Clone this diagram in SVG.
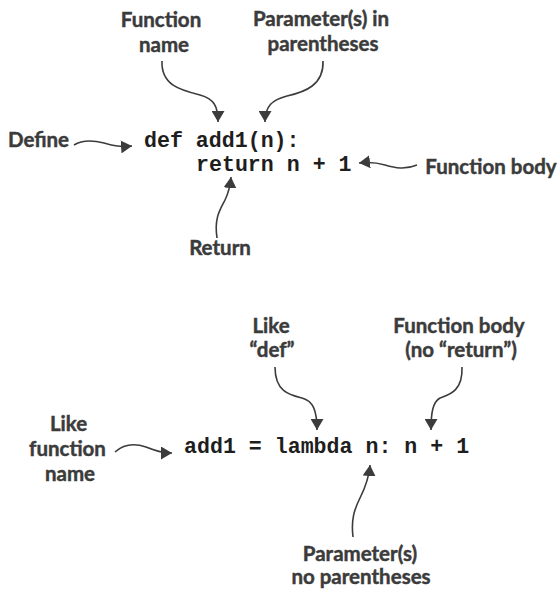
<svg xmlns="http://www.w3.org/2000/svg" width="558" height="589" viewBox="0 0 558 589">
<style>
.lbl{font-family:Lato,"Open Sans","Liberation Sans",sans-serif;font-weight:700;font-size:20.5px;fill:#3b3b3b;stroke:#3b3b3b;stroke-width:0.45;text-anchor:middle}
.code{font-family:"Liberation Mono","Courier New",monospace;font-weight:700;font-size:21.6px;fill:#1e1e1e}
.arr{fill:none;stroke:#3c3c3c;stroke-width:1.6;marker-end:url(#ah)}
</style>
<defs>
<marker id="ah" viewBox="0 0 10 10" refX="10" refY="5" markerWidth="11" markerHeight="13" markerUnits="userSpaceOnUse" orient="auto" preserveAspectRatio="none">
<path d="M0,0 L10,5 L0,10 z" fill="#3c3c3c"/>
</marker>
</defs>
<rect width="558" height="589" fill="#fff"/>
<g id="code-def">
<text class="code" x="144" y="147" xml:space="preserve">def add1(n):</text>
<text class="code" x="196" y="171" xml:space="preserve">return n + 1</text>
</g>
<g id="label-function-name">
<text class="lbl" x="161" y="27">Function</text>
<text class="lbl" x="164" y="52">name</text>
</g>
<g id="label-params">
<text class="lbl" x="321" y="26">Parameter(s) in</text>
<text class="lbl" x="323" y="51">parentheses</text>
</g>
<g id="label-define">
<text class="lbl" x="38.5" y="147">Define</text>
</g>
<g id="label-function-body">
<text class="lbl" x="491" y="174">Function body</text>
</g>
<g id="label-return">
<text class="lbl" x="220" y="255">Return</text>
</g>
<g id="code-lambda">
<text class="code" x="184" y="453" xml:space="preserve">add1 = lambda n: n + 1</text>
</g>
<g id="label-like-def">
<text class="lbl" x="271" y="333">Like</text>
<text class="lbl" x="272" y="357">“def”</text>
</g>
<g id="label-body-noreturn">
<text class="lbl" x="459" y="333">Function body</text>
<text class="lbl" x="461" y="357">(no “return”)</text>
</g>
<g id="label-like-fname">
<text class="lbl" x="68.5" y="431">Like</text>
<text class="lbl" x="67.5" y="456">function</text>
<text class="lbl" x="70" y="481">name</text>
</g>
<g id="label-params-noparen">
<text class="lbl" x="360" y="561">Parameter(s)</text>
<text class="lbl" x="361" y="584">no parentheses</text>
</g>
<g id="connectors">
<path class="arr" d="M162,61 C161,85 180,90 200,95 C214,99 218,106 218,122"/>
<path class="arr" d="M323,61 C324,85 305,92 287,96 C272,100 265,106 265,122"/>
<path class="arr" d="M74,145 C82,140 92,140 104,143 C114,146 120,147 132,146"/>
<path class="arr" d="M417,165 C405,170 395,168 385,165 C375,162 368,162 359,163"/>
<path class="arr" d="M217,238 C214,218 220,210 225,200 C228,194 230,188 231,177"/>
<path class="arr" d="M275,367 C275,392 290,395 302,398 C313,401 317,410 317,430"/>
<path class="arr" d="M462,367 C463,392 448,395 440,398 C433,402 431,412 431,430"/>
<path class="arr" d="M115,452 C124,444 134,443 146,447 C156,451 162,453 172,453"/>
<path class="arr" d="M353,537 C351,520 354,510 360,498 C365,488 369,478 370,465"/>
</g>
</svg>
